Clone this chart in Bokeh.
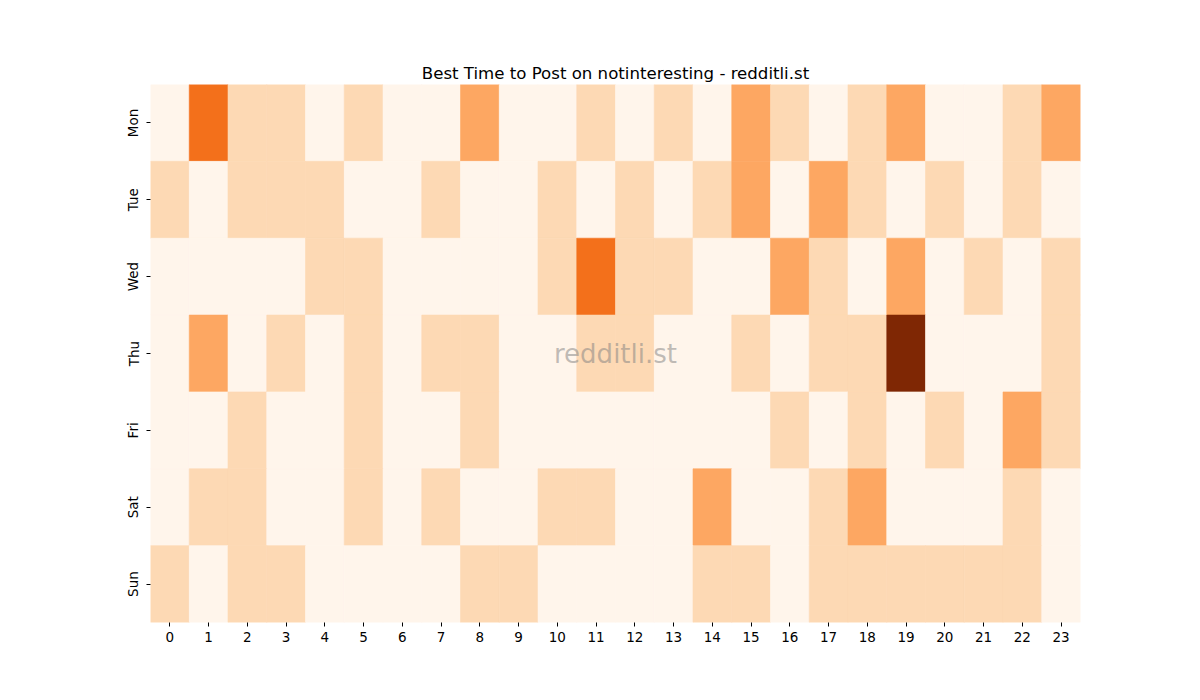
import math
from bokeh.plotting import figure
from bokeh.models import ColumnDataSource, LinearColorMapper, Label, FactorRange
from bokeh.palettes import Oranges256
from bokeh.embed import file_html
from bokeh.resources import INLINE

days = ["Mon", "Tue", "Wed", "Thu", "Fri", "Sat", "Sun"]
hours = [str(h) for h in range(24)]

mon = [0, 3, 1, 1, 0, 1, 0, 0, 2, 0, 0, 1, 0, 1, 0, 2, 1, 0, 1, 2, 0, 0, 1, 2]
tue = [1, 0, 1, 1, 1, 0, 0, 1, 0, 0, 1, 0, 1, 0, 1, 2, 0, 2, 1, 0, 1, 0, 1, 0]
wed = [0, 0, 0, 0, 1, 1, 0, 0, 0, 0, 1, 3, 1, 1, 0, 0, 2, 1, 0, 2, 0, 1, 0, 1]
thu = [0, 2, 0, 1, 0, 1, 0, 1, 1, 0, 0, 1, 1, 0, 0, 1, 0, 1, 1, 5, 0, 0, 0, 1]
fri = [0, 0, 1, 0, 0, 1, 0, 0, 1, 0, 0, 0, 0, 0, 0, 0, 1, 0, 1, 0, 1, 0, 2, 1]
sat = [0, 1, 1, 0, 0, 1, 0, 1, 0, 0, 1, 1, 0, 0, 2, 0, 0, 1, 2, 0, 0, 0, 1, 0]
sun = [1, 0, 1, 1, 0, 0, 0, 0, 1, 1, 0, 0, 0, 0, 1, 1, 0, 1, 1, 1, 1, 1, 1, 0]
rows = [mon, tue, wed, thu, fri, sat, sun]

xs, ys, vs = [], [], []
for d, row in zip(days, rows):
    for h, v in zip(hours, row):
        xs.append(h)
        ys.append(d)
        vs.append(v)
src = ColumnDataSource(dict(x=xs, y=ys, v=vs))

mapper = LinearColorMapper(palette=list(reversed(Oranges256)), low=0, high=max(vs))

p = figure(width=1200, height=700, x_range=FactorRange(*hours),
           y_range=FactorRange(*reversed(days)),
           output_backend="svg", toolbar_location=None,
           min_border_left=150, min_border_right=120,
           min_border_top=84, min_border_bottom=78)
p.rect(x="x", y="y", width=1, height=1, source=src,
       fill_color={"field": "v", "transform": mapper},
       line_color={"field": "v", "transform": mapper}, line_width=0.6)

p.title.text = "Best Time to Post on notinteresting - redditli.st"
p.title.align = "center"
p.title.text_font = "DejaVu Sans"
p.title.text_font_size = "16.6px"
p.title.text_font_style = "normal"
p.title.text_color = "black"
p.title.standoff = 4

for ax in (p.xaxis[0], p.yaxis[0]):
    ax.axis_line_color = None
    ax.major_tick_in = 0
    ax.major_tick_out = 4
    ax.minor_tick_line_color = None
    ax.major_label_text_font = "DejaVu Sans"
    ax.major_label_text_font_size = "13.5px"
    ax.major_label_text_color = "black"
    ax.major_tick_line_color = "black"
p.yaxis.major_label_orientation = "vertical"
p.xgrid.grid_line_color = None
p.ygrid.grid_line_color = None
p.outline_line_color = None
p.x_range.range_padding = 0
p.y_range.range_padding = 0

p.add_layout(Label(x=12, y=3.5, text="redditli.st", text_align="center",
                   text_baseline="middle", text_font="DejaVu Sans",
                   text_font_size="26px", text_color="gray", text_alpha=0.5))

open("out.html", "w").write(file_html(p, INLINE))
